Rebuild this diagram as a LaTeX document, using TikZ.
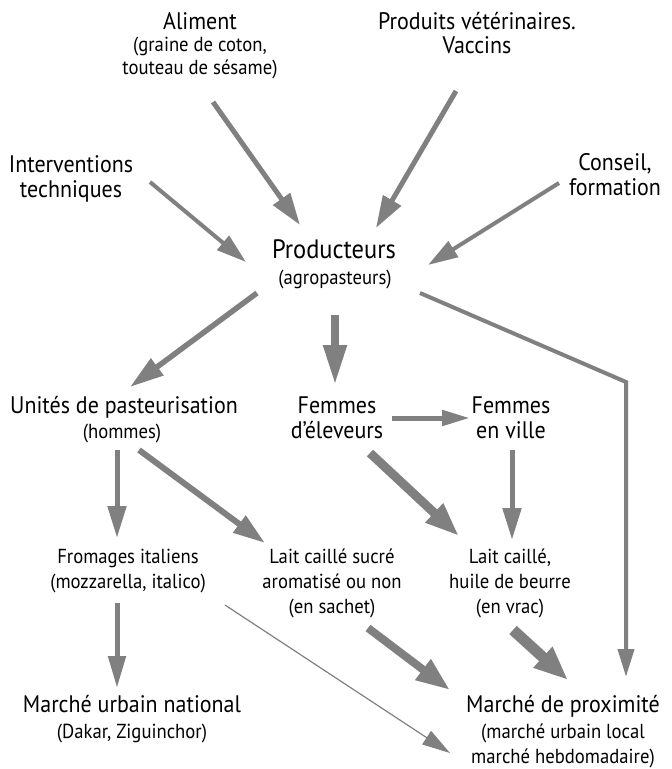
\documentclass[tikz,border=0pt]{standalone}
\usepackage{fontspec}
\setmainfont{PT Sans}[FakeStretch=0.92]
\usetikzlibrary{arrows.meta}
\definecolor{ag}{HTML}{808080}
\begin{document}
\begin{tikzpicture}[x=1pt,y=-1pt,
  mainl/.style={anchor=base, inner sep=0pt, font=\fontsize{23.9}{28}\selectfont},
  subl/.style={anchor=base, inner sep=0pt, font=\fontsize{20.3}{24}\selectfont},
  bigl/.style={anchor=base, inner sep=0pt, font=\fontsize{26.6}{30}\selectfont},
  arr/.style n args={3}{draw=ag, line width=#1, -{Triangle[length=#2,width=#3]}}]
\useasboundingbox (0,0) rectangle (672,769);
% labels (one node per printed line)
\node[mainl] (alim) at (200,29) {Aliment};
\node[subl] (alim2) at (200,51) {(graine de coton,};
\node[subl] (alim3) at (200,74) {touteau de sésame)};
\node[mainl] (vet) at (477,29) {Produits vétérinaires.};
\node[mainl] (vet2) at (477,53) {Vaccins};
\node[mainl] (interv) at (71,172) {Interventions};
\node[mainl] (interv2) at (71,197) {techniques};
\node[mainl] (cons) at (615,170) {Conseil,};
\node[mainl] (cons2) at (615,195) {formation};
\node[bigl] (prod) at (334,258) {Producteurs};
\node[subl] (prod2) at (335,284) {(agropasteurs)};
\node[mainl] (unit) at (124,413) {Unités de pasteurisation};
\node[subl] (unit2) at (122,438) {(hommes)};
\node[mainl] (femel) at (337,413) {Femmes};
\node[mainl] (femel2) at (337,438) {d’éleveurs};
\node[mainl] (femv) at (511,413) {Femmes};
\node[mainl] (femv2) at (511,438) {en ville};
\node[subl] (from) at (128,563) {Fromages italiens};
\node[subl] (from2) at (128,588) {(mozzarella, italico)};
\node[subl] (lcs) at (332,563) {Lait caillé sucré};
\node[subl] (lcs2) at (332,588) {aromatisé ou non};
\node[subl] (lcs3) at (332,613) {(en sachet)};
\node[subl] (lcb) at (510,563) {Lait caillé,};
\node[subl] (lcb2) at (510,588) {huile de beurre};
\node[subl] (lcb3) at (510,613) {(en vrac)};
\node[mainl] (mun) at (132,712) {Marché urbain national};
\node[subl] (mun2) at (132,738) {(Dakar, Ziguinchor)};
\node[mainl] (mprox) at (563,712) {Marché de proximité};
\node[subl] (mprox2) at (563,738) {(marché urbain local};
\node[subl] (mprox3) at (563,763) {marché hebdomadaire)};
% connector end points
\coordinate (a1) at (213,102); \coordinate (b1) at (300,225);
\coordinate (a2) at (456,91); \coordinate (b2) at (376,228);
\coordinate (a3) at (150,182); \coordinate (b3) at (246,262);
\coordinate (a4) at (559,183); \coordinate (b4) at (428,265);
\coordinate (a5) at (257,293); \coordinate (b5) at (130,387);
\coordinate (a6) at (335,315); \coordinate (b6) at (335,385);
\coordinate (a7) at (420,293); \coordinate (k7) at (626,382); \coordinate (b7) at (626,677);
\coordinate (a8) at (392,418); \coordinate (b8) at (470,418);
\coordinate (a9) at (117,450); \coordinate (b9) at (117,538);
\coordinate (a10) at (139,450); \coordinate (b10) at (265,543);
\coordinate (a11) at (370,453); \coordinate (b11) at (459,536);
\coordinate (a12) at (512,450); \coordinate (b12) at (512,540);
\coordinate (a13) at (117,603); \coordinate (b13) at (117,688);
\coordinate (a14) at (225,605); \coordinate (b14) at (450,753);
\coordinate (a15) at (368,628); \coordinate (b15) at (450,690);
\coordinate (a16) at (513,630); \coordinate (b16) at (568,680);
% connectors
\draw[arr={5pt}{32pt}{20pt}] (a1) -- (b1);
\draw[arr={5pt}{32pt}{20pt}] (a2) -- (b2);
\draw[arr={4pt}{30pt}{18pt}] (a3) -- (b3);
\draw[arr={4pt}{30pt}{18pt}] (a4) -- (b4);
\draw[arr={5.5pt}{34pt}{20pt}] (a5) -- (b5);
\draw[arr={8pt}{40pt}{22pt}] (a6) -- (b6);
\draw[arr={4pt}{28pt}{16pt}, line join=miter] (a7) -- (k7) -- (b7);
\draw[arr={5pt}{28pt}{15pt}] (a8) -- (b8);
\draw[arr={5pt}{32pt}{18pt}] (a9) -- (b9);
\draw[arr={6pt}{32pt}{20pt}] (a10) -- (b10);
\draw[arr={9pt}{34pt}{24pt}] (a11) -- (b11);
\draw[arr={5pt}{32pt}{18pt}] (a12) -- (b12);
\draw[arr={5pt}{32pt}{17pt}] (a13) -- (b13);
\draw[arr={1.2pt}{28pt}{16pt}] (a14) -- (b14);
\draw[arr={8pt}{34pt}{24pt}] (a15) -- (b15);
\draw[arr={11pt}{34pt}{26pt}] (a16) -- (b16);
\end{tikzpicture}
\end{document}
